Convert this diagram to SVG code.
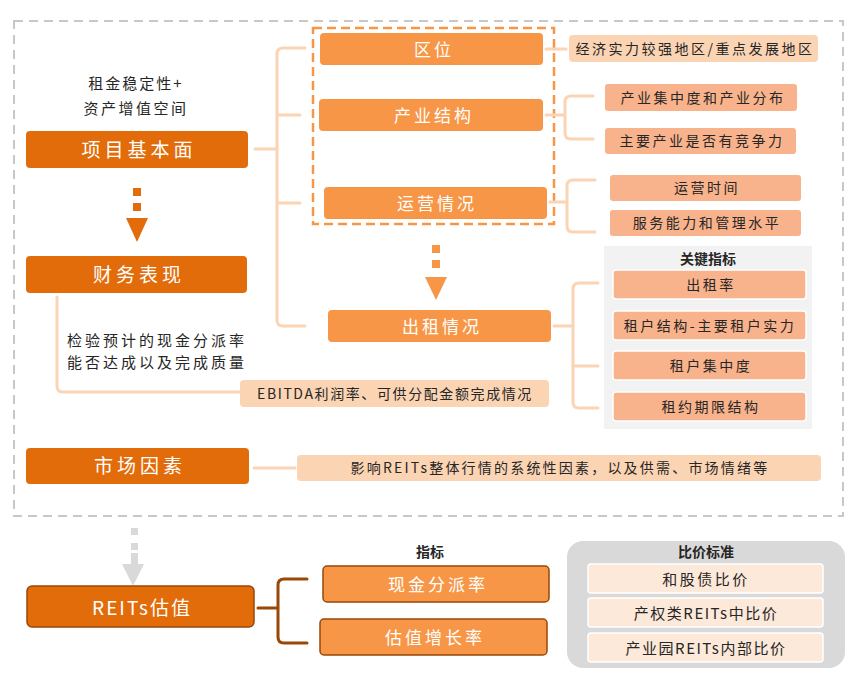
<svg xmlns="http://www.w3.org/2000/svg" width="858" height="685" viewBox="0 0 858 685">
<style>
.t{font-family:"Noto Sans CJK SC","Liberation Sans",sans-serif;text-anchor:middle;dominant-baseline:central}
.w{fill:#fff}
.d{fill:#262626}
.big{font-size:19px;letter-spacing:4px}
.mid{font-size:17px;letter-spacing:3px}
.sm{font-size:14px;letter-spacing:2.5px}
.b{font-weight:bold;font-size:14px;fill:#262626}
.dark{fill:#E36C0A}
.med{fill:#F79646}
.peach{fill:#FBD4B4}
.sal{fill:#F9B38C}
.ln{fill:none;stroke:#FBD4B4;stroke-width:3;stroke-linecap:round}
.lb{fill:none;stroke:#984807;stroke-width:3;stroke-linecap:round}
</style>
<rect width="858" height="685" fill="#fff"/>
<rect x="14" y="21" width="829" height="495" fill="none" stroke="#C8C8C8" stroke-width="2" stroke-dasharray="9,6"/>
<rect x="313" y="28" width="241" height="196" fill="none" stroke="#F79646" stroke-width="2.5" stroke-dasharray="9,5"/>

<g id="connectors">
<path class="ln" d="M255,149 H277"/>
<path class="ln" d="M305,48 H283 Q277,48 277,54 V320 Q277,326 283,326 H305 M277,115 H300 M277,203 H300"/>
<path class="ln" d="M546,49 H566"/>
<path class="ln" d="M546,115 H565 M593,96 H571 Q565,96 565,102 V133 Q565,139 571,139 H593"/>
<path class="ln" d="M550,202 H567 M595,180 H573 Q567,180 567,186 V226 Q567,232 573,232 H595"/>
<path class="ln" d="M554,326 H573 M598,283 H579 Q573,283 573,289 V402 Q573,408 579,408 H598 M573,366 H598"/>
<path class="ln" d="M57,297 V386 Q57,392 63,392 H240"/>
<path class="ln" d="M254,468 H295"/>
<path class="lb" d="M258,608 H278 M307,579 H284 Q278,579 278,585 V637 Q278,643 284,643 H307"/>
<g fill="#E36C0A">
<rect x="133" y="188" width="8" height="8"/><rect x="133" y="203" width="8" height="8"/>
<polygon points="126,218 148,218 137,242"/>
</g>
<g fill="#F79646">
<rect x="432" y="245" width="8" height="8"/><rect x="432" y="260" width="8" height="8"/>
<polygon points="425,277 447,277 436,300"/>
</g>
<g fill="#D9D9D9">
<rect x="131" y="528" width="7" height="7"/><rect x="131" y="543" width="7" height="7"/><rect x="131" y="553" width="7" height="12"/>
<polygon points="122,564 144,564 133,586"/>
</g>
</g>

<g id="label-rent">
<text class="t d" x="136" y="82" style="font-size:15px;letter-spacing:2px">租金稳定性+</text>
<text class="t d" x="136" y="107" style="font-size:15px;letter-spacing:2.5px">资产增值空间</text>
</g>
<g id="node-project">
<rect class="dark" x="26" y="131" width="222" height="37" rx="4"/>
<text class="t w big" x="139" y="148">项目基本面</text>
</g>
<g id="node-finance">
<rect class="dark" x="26" y="256" width="221" height="37" rx="4"/>
<text class="t w big" x="139" y="273">财务表现</text>
</g>
<g id="label-finance">
<text class="t d" x="157" y="339" style="font-size:15px;letter-spacing:3px">检验预计的现金分派率</text>
<text class="t d" x="157" y="361" style="font-size:15px;letter-spacing:3px">能否达成以及完成质量</text>
</g>
<g id="node-ebitda">
<rect class="peach" x="240" y="380" width="309" height="27" rx="4"/>
<text class="t d" x="395" y="393" style="font-size:14px;letter-spacing:1.6px">EBITDA利润率、可供分配金额完成情况</text>
</g>
<g id="node-market">
<rect class="dark" x="26" y="448" width="223" height="36" rx="4"/>
<text class="t w big" x="140" y="464">市场因素</text>
</g>
<g id="node-market-desc">
<rect class="peach" x="297" y="455" width="524" height="26" rx="4"/>
<text class="t d" x="560" y="467" style="font-size:14px;letter-spacing:2.2px">影响REITs整体行情的系统性因素，以及供需、市场情绪等</text>
</g>

<g id="node-location">
<rect class="med" x="320" y="33" width="223" height="32" rx="4"/>
<text class="t w mid" x="434" y="48">区位</text>
</g>
<g id="node-industry">
<rect class="med" x="319" y="99" width="224" height="32" rx="4"/>
<text class="t w mid" x="434" y="114">产业结构</text>
</g>
<g id="node-operation">
<rect class="med" x="324" y="187" width="223" height="32" rx="4"/>
<text class="t w mid" x="437" y="202">运营情况</text>
</g>
<g id="node-leasing">
<rect class="med" x="328" y="310" width="223" height="32" rx="4"/>
<text class="t w mid" x="442" y="325">出租情况</text>
</g>

<g id="node-loc-desc">
<rect class="peach" x="569" y="35" width="249" height="27" rx="4"/>
<text class="t d" x="695" y="48" style="font-size:14px;letter-spacing:2.5px">经济实力较强地区/重点发展地区</text>
</g>
<g id="node-ind-1">
<rect class="sal" x="605" y="84" width="192" height="27" rx="3"/>
<text class="t d sm" x="703" y="97">产业集中度和产业分布</text>
</g>
<g id="node-ind-2">
<rect class="sal" x="605" y="128" width="191" height="26" rx="3"/>
<text class="t d sm" x="702" y="140">主要产业是否有竞争力</text>
</g>
<g id="node-op-1">
<rect class="sal" x="610" y="175" width="191" height="26" rx="3"/>
<text class="t d sm" x="707" y="187">运营时间</text>
</g>
<g id="node-op-2">
<rect class="sal" x="610" y="210" width="191" height="26" rx="3"/>
<text class="t d sm" x="707" y="222">服务能力和管理水平</text>
</g>

<g id="panel-key">
<rect x="604" y="246" width="208" height="183" fill="#F2F2F2"/>
<text class="t b" x="708" y="258">关键指标</text>
</g>
<g id="node-key-1">
<rect class="sal" x="613" y="270" width="193" height="29" rx="3" stroke="#fff" stroke-width="1.5"/>
<text class="t d sm" x="711" y="284">出租率</text>
</g>
<g id="node-key-2">
<rect class="sal" x="613" y="311" width="193" height="29" rx="3" stroke="#fff" stroke-width="1.5"/>
<text class="t d sm" x="710" y="325">租户结构-主要租户实力</text>
</g>
<g id="node-key-3">
<rect class="sal" x="613" y="351" width="193" height="29" rx="3" stroke="#fff" stroke-width="1.5"/>
<text class="t d sm" x="711" y="365">租户集中度</text>
</g>
<g id="node-key-4">
<rect class="sal" x="613" y="392" width="193" height="29" rx="3" stroke="#fff" stroke-width="1.5"/>
<text class="t d sm" x="711" y="406">租约期限结构</text>
</g>

<g id="node-reits">
<rect class="dark" x="27" y="586" width="227" height="41" rx="5" stroke="#984807" stroke-width="1.5"/>
<text class="t w" x="142" y="606" style="font-size:19px;letter-spacing:2px">REITs估值</text>
</g>
<g id="label-index">
<text class="t b" x="430" y="551">指标</text>
</g>
<g id="node-cash">
<rect class="med" x="323" y="566" width="226" height="36" rx="4" stroke="#984807" stroke-width="1.5"/>
<text class="t w mid" x="438" y="583">现金分派率</text>
</g>
<g id="node-growth">
<rect class="med" x="320" y="619" width="227" height="36" rx="4" stroke="#984807" stroke-width="1.5"/>
<text class="t w mid" x="435" y="636">估值增长率</text>
</g>

<g id="panel-compare">
<rect x="567" y="541" width="278" height="127" rx="16" fill="#D9D9D9"/>
<text class="t b" x="706" y="551">比价标准</text>
</g>
<g id="node-cmp-1">
<rect x="588" y="564" width="235" height="29" rx="3" fill="#FDE9D9" stroke="#fff" stroke-width="1.5"/>
<text class="t d" x="706" y="578" style="font-size:15px;letter-spacing:2.5px">和股债比价</text>
</g>
<g id="node-cmp-2">
<rect x="588" y="598" width="235" height="29" rx="3" fill="#FDE9D9" stroke="#fff" stroke-width="1.5"/>
<text class="t d" x="706" y="612" style="font-size:15px;letter-spacing:1.5px">产权类REITs中比价</text>
</g>
<g id="node-cmp-3">
<rect x="588" y="633" width="235" height="29" rx="3" fill="#FDE9D9" stroke="#fff" stroke-width="1.5"/>
<text class="t d" x="706" y="647" style="font-size:15px;letter-spacing:1.5px">产业园REITs内部比价</text>
</g>
</svg>
